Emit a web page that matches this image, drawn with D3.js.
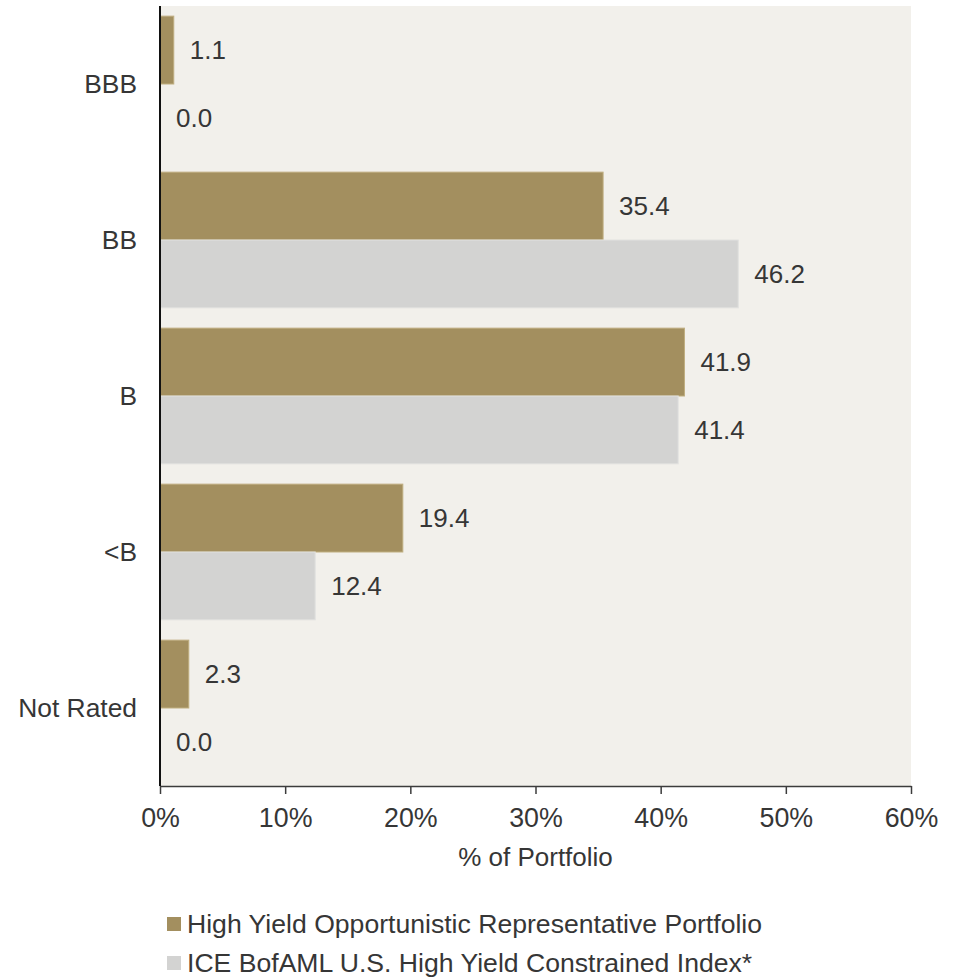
<!DOCTYPE html>
<html>
<head>
<meta charset="utf-8">
<script src="https://cdn.jsdelivr.net/npm/d3@7"></script>
<style>
  html, body { margin: 0; padding: 0; background: #ffffff; }
  svg text { font-family: "Liberation Sans", Arial, Helvetica, sans-serif; fill: #363636; }
</style>
</head>
<body>
<svg id="chart" width="955" height="977"></svg>
<script>
// Credit quality breakdown, % of portfolio
const categories = ["BBB", "BB", "B", "<B", "Not Rated"];
const seriesNames = [
  "High Yield Opportunistic Representative Portfolio",
  "ICE BofAML U.S. High Yield Constrained Index*"
];
const portfolioValues = [1.1, 35.4, 41.9, 19.4, 2.3];
const indexValues = [0.0, 46.2, 41.4, 12.4, 0.0];
const xTickValues = [0, 10, 20, 30, 40, 50, 60];
const xTitle = "% of Portfolio";

const colors = { portfolio: "#a38f5f", index: "#d3d3d2" };
const strokes = { portfolio: "#bfae80", index: "#e2e2e0" };

const svg = d3.select("#chart");
const plot = { left: 160, right: 911, top: 6, bottom: 786 };
const fontSize = 26;

const x = d3.scaleLinear().domain([0, 60]).range([plot.left, plot.right]);
const y = d3.scaleBand().domain(categories)
  .range([plot.top, plot.bottom])
  .paddingInner(0.13).paddingOuter(0.065);
const ySub = d3.scaleBand().domain(["portfolio", "index"]).range([0, y.bandwidth()]);

// plot background
svg.append("rect")
  .attr("x", plot.left).attr("y", plot.top)
  .attr("width", plot.right - plot.left).attr("height", plot.bottom - plot.top)
  .attr("fill", "#f2f0eb");

const rows = categories.map((c, i) => ({
  cat: c,
  values: [
    { key: "portfolio", v: portfolioValues[i] },
    { key: "index", v: indexValues[i] }
  ]
}));

const groups = svg.selectAll("g.cat").data(rows).enter().append("g")
  .attr("class", "cat")
  .attr("transform", d => `translate(0,${y(d.cat)})`);

groups.selectAll("rect").data(d => d.values).enter().append("rect")
  .attr("x", x(0))
  .attr("y", d => ySub(d.key))
  .attr("width", d => x(d.v) - x(0))
  .attr("height", ySub.bandwidth())
  .attr("fill", d => colors[d.key])
  .attr("stroke", d => d.v > 0 ? strokes[d.key] : "none")
  .attr("stroke-width", 1);

groups.selectAll("text.val").data(d => d.values).enter().append("text")
  .attr("class", "val")
  .attr("x", d => x(d.v) + 16)
  .attr("y", d => ySub(d.key) + ySub.bandwidth() / 2)
  .attr("dy", "0.35em")
  .attr("font-size", fontSize)
  .text(d => d.v.toFixed(1));

// category labels
svg.selectAll("text.cat").data(categories).enter().append("text")
  .attr("class", "cat")
  .attr("x", plot.left - 23)
  .attr("y", d => y(d) + y.bandwidth() / 2)
  .attr("dy", "0.35em")
  .attr("text-anchor", "end")
  .attr("font-size", 26.4)
  .text(d => d);

// x axis
const xAxis = svg.append("g")
  .attr("transform", `translate(0,${plot.bottom})`)
  .call(d3.axisBottom(x).tickValues(xTickValues).tickFormat(d => d + "%").tickSize(8).tickPadding(12).tickSizeOuter(0));
xAxis.select(".domain").attr("stroke", "#3c3c3c").attr("stroke-width", 1.5);
xAxis.selectAll(".tick line").attr("stroke", "#3c3c3c").attr("stroke-width", 1.5);
xAxis.selectAll(".tick text")
  .attr("font-size", 26.8)
  .attr("font-family", null)
  .attr("fill", "#363636")
  .attr("dy", null)
  .attr("y", 41);

// y axis line
svg.append("line")
  .attr("x1", plot.left).attr("x2", plot.left)
  .attr("y1", plot.top).attr("y2", plot.bottom)
  .attr("stroke", "#111").attr("stroke-width", 2);

// axis title
svg.append("text")
  .attr("x", (plot.left + plot.right) / 2)
  .attr("y", 866)
  .attr("text-anchor", "middle")
  .attr("font-size", fontSize)
  .text(xTitle);

// legend
const legend = svg.append("g").attr("transform", "translate(167,0)");
const legendItems = [
  { key: "portfolio", name: seriesNames[0], baseline: 933 },
  { key: "index", name: seriesNames[1], baseline: 972 }
];
legendItems.forEach(item => {
  legend.append("rect")
    .attr("x", 0).attr("y", item.baseline - 16)
    .attr("width", 14).attr("height", 14)
    .attr("fill", colors[item.key]);
  legend.append("text")
    .attr("x", 20).attr("y", item.baseline)
    .attr("font-size", 26.6)
    .text(item.name);
});
</script>
</body>
</html>
